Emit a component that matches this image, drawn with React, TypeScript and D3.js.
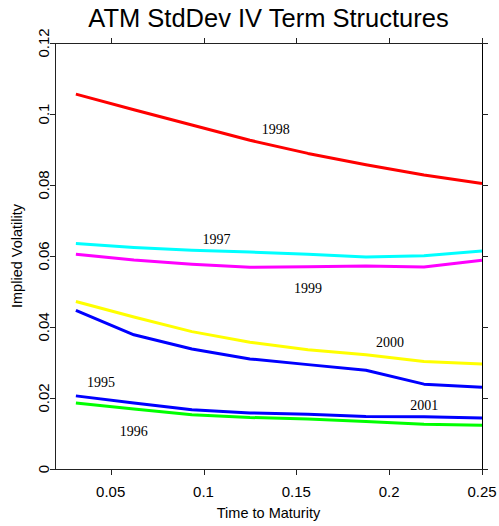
import React from "react";
import * as d3 from "d3";

const maturities = [0.03125, 0.0625, 0.09375, 0.125, 0.15625, 0.1875, 0.21875, 0.25];

const vol1998 = [0.1056, 0.1012, 0.0969, 0.0926, 0.0889, 0.0857, 0.0828, 0.0804];
const vol1997 = [0.0635, 0.0624, 0.0616, 0.0611, 0.0605, 0.0597, 0.0601, 0.0614];
const vol1999 = [0.0605, 0.0589, 0.0577, 0.0568, 0.057, 0.0572, 0.0569, 0.0588];
const vol2000 = [0.0472, 0.0428, 0.0387, 0.0357, 0.0336, 0.0322, 0.0303, 0.0296];
const vol2001 = [0.0447, 0.0378, 0.0338, 0.031, 0.0294, 0.0278, 0.0239, 0.023];
const vol1995 = [0.0206, 0.0186, 0.0167, 0.0158, 0.0154, 0.0148, 0.0147, 0.0144];
const vol1996 = [0.0186, 0.0169, 0.0153, 0.0145, 0.0141, 0.0134, 0.0126, 0.0123];

const seriesList = [
  { name: "1998", values: vol1998, color: "#ff0000" },
  { name: "1997", values: vol1997, color: "#00ffff" },
  { name: "1999", values: vol1999, color: "#ff00ff" },
  { name: "2000", values: vol2000, color: "#ffff00" },
  { name: "2001", values: vol2001, color: "#0000ff" },
  { name: "1995", values: vol1995, color: "#0000ff" },
  { name: "1996", values: vol1996, color: "#00ff00" },
];

// annotation labels in data coordinates (x = start, y = baseline)
const labelTexts = ["1998", "1997", "1999", "2000", "1995", "1996", "2001"];
const labelX = [0.1314, 0.0995, 0.1487, 0.1929, 0.0372, 0.0549, 0.2113];
const labelY = [0.0944, 0.0633, 0.0495, 0.0345, 0.023, 0.0092, 0.0165];

const xTicks = [0.05, 0.1, 0.15, 0.2, 0.25];
const xTickLabels = ["0.05", "0.1", "0.15", "0.2", "0.25"];
const yTicks = [0, 0.02, 0.04, 0.06, 0.08, 0.1, 0.12];
const yTickLabels = ["0", "0.02", "0.04", "0.06", "0.08", "0.1", "0.12"];

export default function App() {
  const W = 499;
  const H = 526;
  const left = 55, right = 482, top = 43, bottom = 469;
  const x = d3.scaleLinear().domain([0.02, 0.25]).range([left, right]);
  const y = d3.scaleLinear().domain([0, 0.12]).range([bottom, top]);
  const line = d3
    .line<number>()
    .x((_, i) => x(maturities[i]))
    .y((d) => y(d));
  const sans = "'Liberation Sans', Arial, sans-serif";
  const serif = "'Liberation Serif', 'Times New Roman', serif";
  const axisColor = "#222";

  return (
    <svg
      width={W}
      height={H}
      style={{ position: "absolute", left: 0, top: 0, background: "#fff" }}
    >
      <rect x={0} y={0} width={W} height={H} fill="#fff" />
      <text
        x={(left + right) / 2}
        y={27}
        textAnchor="middle"
        fontFamily={sans}
        fontSize={25.5}
        fill="#000"
      >
        ATM StdDev IV Term Structures
      </text>

      {/* series */}
      {seriesList.map((s) => (
        <path
          key={s.name + s.color}
          d={line(s.values) || ""}
          fill="none"
          stroke={s.color}
          strokeWidth={3}
          strokeLinejoin="round"
        />
      ))}

      {/* annotations */}
      {labelTexts.map((t, i) => (
        <text
          key={t}
          x={x(labelX[i])}
          y={y(labelY[i])}
          fontFamily={serif}
          fontSize={14}
          fill="#000"
        >
          {t}
        </text>
      ))}

      {/* frame */}
      <line x1={left} x2={right} y1={bottom + 0.5} y2={bottom + 0.5} stroke={axisColor} />
      <line x1={left} x2={right} y1={top + 0.5} y2={top + 0.5} stroke={axisColor} />
      <line x1={left + 0.5} x2={left + 0.5} y1={top} y2={bottom} stroke={axisColor} />
      <line x1={right + 0.5} x2={right + 0.5} y1={top} y2={bottom + 1} stroke="#000" />

      {/* x ticks */}
      {xTicks.map((t, i) => (
        <g key={"x" + t}>
          <line
            x1={Math.round(x(t)) + 0.5}
            x2={Math.round(x(t)) + 0.5}
            y1={bottom}
            y2={bottom + 6}
            stroke={axisColor}
          />
          <line
            x1={Math.round(x(t)) + 0.5}
            x2={Math.round(x(t)) + 0.5}
            y1={top + 1}
            y2={top - 5}
            stroke={axisColor}
          />
          <text
            x={x(t)}
            y={497}
            textAnchor="middle"
            fontFamily={sans}
            fontSize={15}
            fill="#000"
          >
            {xTickLabels[i]}
          </text>
        </g>
      ))}

      {/* y ticks */}
      {yTicks.map((t, i) => (
        <g key={"y" + t}>
          <line
            x1={left}
            x2={left - 5}
            y1={Math.round(y(t)) + 0.5}
            y2={Math.round(y(t)) + 0.5}
            stroke={axisColor}
          />
          <line
            x1={right}
            x2={right + 6}
            y1={Math.round(y(t)) + 0.5}
            y2={Math.round(y(t)) + 0.5}
            stroke={axisColor}
          />
          <text
            transform={`translate(49, ${y(t)}) rotate(-90)`}
            textAnchor="middle"
            fontFamily={sans}
            fontSize={15}
            fill="#000"
          >
            {yTickLabels[i]}
          </text>
        </g>
      ))}

      {/* axis titles */}
      <text
        x={(left + right) / 2}
        y={518}
        textAnchor="middle"
        fontFamily={sans}
        fontSize={14.5}
        fill="#000"
      >
        Time to Maturity
      </text>
      <text
        transform={`translate(22, ${(top + bottom) / 2}) rotate(-90)`}
        textAnchor="middle"
        fontFamily={sans}
        fontSize={14.5}
        fill="#000"
      >
        Implied Volatility
      </text>
    </svg>
  );
}
